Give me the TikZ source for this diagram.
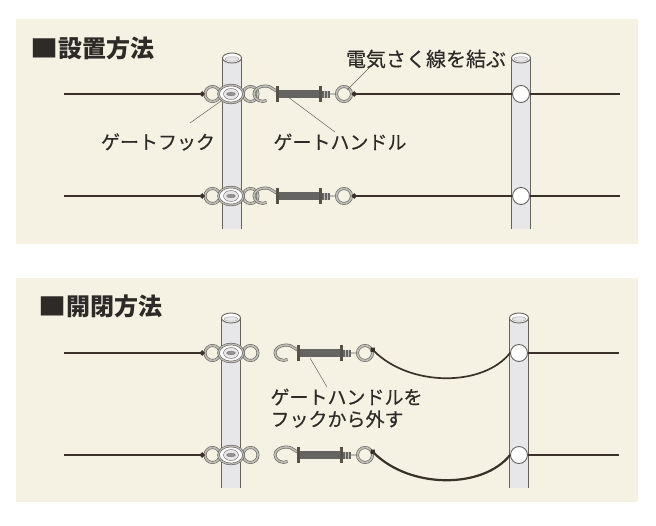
\documentclass[tikz,border=0pt]{standalone}
\usepackage{fontspec}
\setmainfont{Noto Sans CJK JP}
\newfontfamily\labelfont[FakeBold=0.35]{Noto Sans CJK JP}
\usetikzlibrary{arrows.meta}
\usetikzlibrary{shapes.geometric}
\definecolor{panelcol}{HTML}{F5F2E4}
\definecolor{postcol}{HTML}{E7E7EA}
\definecolor{edgecol}{HTML}{66625E}
\definecolor{ringcol}{HTML}{BDBBB6}
\definecolor{wirecol}{HTML}{3A3228}
\definecolor{barcol}{HTML}{666463}
\definecolor{textcol}{HTML}{2E2A28}

\tikzset{
    panel/.style={fill=panelcol,draw=none},
    wire/.style={draw=wirecol,line width=1.7pt,>={Circle[length=5pt]}},
    leader/.style={draw=edgecol,line width=.5pt},
    ring/.style={circle,draw=edgecol,double=ringcol,double distance=1.7pt,line width=.6pt,minimum size=15pt,inner sep=0pt},
    postring/.style={circle,draw=edgecol,fill=white,line width=.9pt,minimum size=17pt,inner sep=0pt},
    title/.style={text=textcol,font=\bfseries\fontsize{24}{24}\selectfont},
    label/.style={text=textcol,font=\labelfont\fontsize{19}{22}\selectfont,align=left},
    gatepost/.pic={
        \fill[postcol] (-9.5,4) rectangle (9.5,#1);
        \draw[edgecol,line width=.9pt] (-9.5,4) -- (-9.5,#1) (9.5,4) -- (9.5,#1);
        \node[ellipse,draw=edgecol,fill=white,line width=.9pt,minimum width=19pt,minimum height=10pt,inner sep=0pt] (-top) at (0,5) {};
        \node[ellipse,draw=edgecol!60,fill=postcol,line width=.4pt,minimum width=14pt,minimum height=4.5pt,inner sep=0pt] (-cap) at (0,6) {};
    },
    clamp/.pic={
        \node[ring] (-left) at (-18.5,0) {};
        \node[ring] (-right) at (19.5,0) {};
        \node[ellipse,draw=edgecol,double=ringcol,double distance=1.2pt,fill=white,line width=.6pt,minimum width=25pt,minimum height=18pt,inner sep=0pt] (-oval) at (0,0) {};
        \node[ellipse,draw=edgecol,fill=postcol,line width=.4pt,minimum width=15pt,minimum height=11pt,inner sep=0pt] (-mid) at (0,0) {};
        \node[ellipse,draw=edgecol,fill=barcol!70,line width=.3pt,minimum width=9pt,minimum height=3.5pt,inner sep=0pt] (-bolt) at (0,0) {};
    },
    gatehandle/.pic={
        \draw[edgecol,double=ringcol,double distance=1.7pt,line width=.6pt]
            (14.5,-3) -- (8,-7) .. controls (3,-9.5) and (-8,-7) .. (-8,0)
            .. controls (-8,6) and (0,9) .. (4.5,6.5);
        \fill[barcol] (14.5,-4) rectangle (58,4);
        \fill[wirecol!85] (14,-8) rectangle (16.5,8);
        \fill[wirecol!85] (57,-8) rectangle (59.5,8);
        \fill[barcol] (59.5,-3.5) rectangle (68,3.5);
        \draw[ringcol,line width=.8pt] (62,-3.5) -- (62,3.5) (65,-3.5) -- (65,3.5);
        \draw[edgecol,double=ringcol,double distance=1.2pt,line width=.5pt] (68,0) -- (75,0);
        \node[ring] (-eye) at (82,0) {};
    }
}

\begin{document}
\begin{tikzpicture}[x=1pt,y=-1pt]
    \useasboundingbox (0,0) rectangle (656,525);
    \fill[panel] (16,19) rectangle (638,244);
    \fill[panel] (16,278) rectangle (638,502);

    \node[title,anchor=west,inner sep=0pt] (settitle) at (30,48) {\scalebox{1.17}[1]{■}設置方法};
    \node[title,anchor=west,inner sep=0pt] (opentitle) at (38,306) {\scalebox{1.17}[1]{■}開閉方法};

    % upper panel
    \pic (setpa) at (232,53) {gatepost=176};
    \pic (setpb) at (521,53) {gatepost=176};
    \coordinate (setla) at (64,94);
    \coordinate (setra) at (620,94);
    \coordinate (setlb) at (64,196);
    \coordinate (setrb) at (620,196);
    \node[postring] (setra post) at (521,94) {};
    \node[postring] (setrb post) at (521,196) {};
    \pic (setca) at (231,94) {clamp};
    \pic (setcb) at (231,196) {clamp};
    \pic (setha) at (262,94) {gatehandle};
    \pic (sethb) at (262,196) {gatehandle};
    \draw[wire,->] (setla) -- (setca-left);
    \draw[wire,->] (setlb) -- (setcb-left);
    \draw[wire,<-] (setha-eye) -- (setra post);
    \draw[wire,<-] (sethb-eye) -- (setrb post);
    \draw[wire] (setra post) -- (setra);
    \draw[wire] (setrb post) -- (setrb);

    \node[label] (hooklabel) at (158,142) {ゲートフック};
    \node[label] (handlelabel) at (340,142) {ゲートハンドル};
    \node[label,font=\labelfont\fontsize{20}{22}\selectfont] (wirelabel) at (426,59) {電気さく線を結ぶ};
    \coordinate (hooktip) at (190,123);
    \coordinate (handletip) at (288,97);
    \coordinate (handlefoot) at (335,132);
    \coordinate (wiretip) at (347,90);
    \coordinate (wirefoot) at (370,67);
    \draw[leader] (hooktip) -- (setca-oval);
    \draw[leader] (handlefoot) -- (handletip);
    \draw[leader] (wirefoot) -- (wiretip);

    % lower panel
    \pic (openpa) at (231,313) {gatepost=175};
    \pic (openpb) at (519,313) {gatepost=175};
    \coordinate (openla) at (64,353);
    \coordinate (openra) at (619,353);
    \coordinate (openlb) at (64,455);
    \coordinate (openrb) at (619,455);
    \node[postring] (openra post) at (519,353) {};
    \node[postring] (openrb post) at (519,455) {};
    \pic (openca) at (231,353) {clamp};
    \pic (opencb) at (231,455) {clamp};
    \pic (openha) at (283,353) {gatehandle};
    \pic (openhb) at (283,455) {gatehandle};
    \draw[wire,->] (openla) -- (openca-left);
    \draw[wire,->] (openlb) -- (opencb-left);
    \draw[wire] (openra post) -- (openra);
    \draw[wire] (openrb post) -- (openrb);
    \draw[wire,<-] (openha-eye.40) .. controls (410,387) and (483,387) .. (openra post.west);
    \draw[wire,<-,line width=2.2pt] (openhb-eye.40) .. controls (410,489) and (483,489) .. (openrb post.west);

    \node[label,anchor=north west] (openlabel) at (267,385) {ゲートハンドルを\\フックから外す};
    \coordinate (opentip) at (310,358);
    \coordinate (openfoot) at (327,387);
    \draw[leader] (openfoot) -- (opentip);
\end{tikzpicture}
\end{document}
